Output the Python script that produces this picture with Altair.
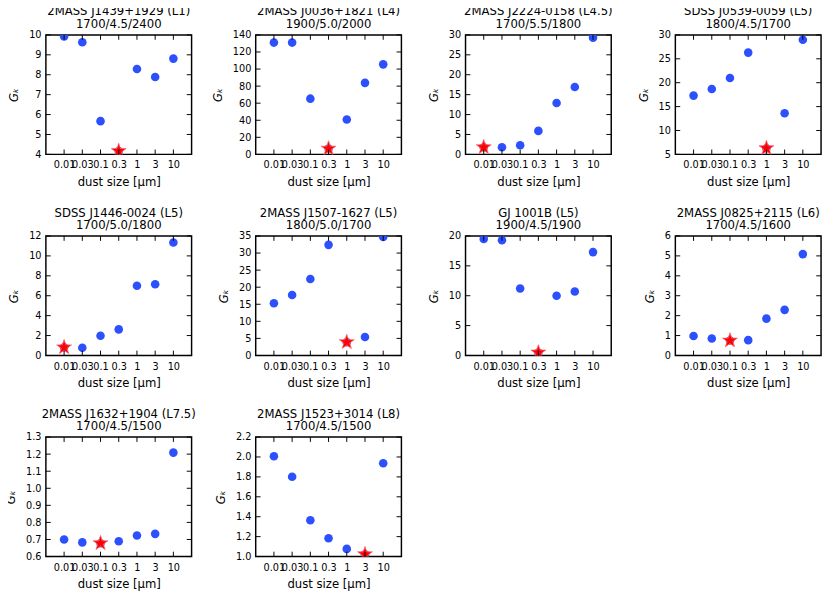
import altair as alt
import pandas as pd

SIZE_LABELS = ["0.01", "0.03", "0.1", "0.3", "1", "3", "10"]

NAMES = [
    "2MASS J1439+1929 (L1)", "2MASS J0036+1821 (L4)", "2MASS J2224-0158 (L4.5)",
    "SDSS J0539-0059 (L5)", "SDSS J1446-0024 (L5)", "2MASS J1507-1627 (L5)",
    "GJ 1001B (L5)", "2MASS J0825+2115 (L6)", "2MASS J1632+1904 (L7.5)",
    "2MASS J1523+3014 (L8)",
]
PARAMS = [
    "1700/4.5/2400", "1900/5.0/2000", "1700/5.5/1800", "1800/4.5/1700",
    "1700/5.0/1800", "1800/5.0/1700", "1900/4.5/1900", "1700/4.5/1600",
    "1700/4.5/1500", "1700/4.5/1500",
]
GK = [
    [9.92, 9.63, 5.67, 4.17, 8.29, 7.89, 8.81],
    [131.0, 131.0, 65.3, 6.8, 40.8, 83.8, 105.5],
    [1.8, 1.8, 2.3, 5.9, 12.9, 16.9, 29.3],
    [17.3, 18.7, 21.0, 26.3, 6.3, 13.6, 29.0],
    [0.82, 0.78, 1.98, 2.62, 7.0, 7.15, 11.35],
    [15.3, 17.7, 22.4, 32.4, 3.9, 5.4, 34.7],
    [19.5, 19.3, 11.2, 0.5, 10.0, 10.7, 17.3],
    [0.98, 0.85, 0.75, 0.77, 1.85, 2.29, 5.09],
    [0.700, 0.683, 0.678, 0.690, 0.723, 0.733, 1.209],
    [2.007, 1.802, 1.365, 1.183, 1.077, 1.023, 1.937],
]
BEST = [3, 3, 0, 4, 0, 4, 3, 2, 2, 5]
Y_TICKS = [
    [4, 5, 6, 7, 8, 9, 10],
    [0, 20, 40, 60, 80, 100, 120, 140],
    [0, 5, 10, 15, 20, 25, 30],
    [5, 10, 15, 20, 25, 30],
    [0, 2, 4, 6, 8, 10, 12],
    [0, 5, 10, 15, 20, 25, 30, 35],
    [0, 5, 10, 15, 20],
    [0, 1, 2, 3, 4, 5, 6],
    [0.6, 0.7, 0.8, 0.9, 1.0, 1.1, 1.2, 1.3],
    [1.0, 1.2, 1.4, 1.6, 1.8, 2.0, 2.2],
]
Y_FORMAT = ["d", "d", "d", "d", "d", "d", "d", "d", ".1f", ".1f"]

W, H = 150, 123
TICK = 5
BLUE = "#2d50ff"
FONT = "DejaVu Sans"
STAR = ("M0,-1L0.2245,-0.309L0.9511,-0.309L0.3633,0.118L0.5878,0.809L0,0.382"
        "L-0.5878,0.809L-0.3633,0.118L-0.9511,-0.309L-0.2245,-0.309Z")

label_expr = "[" + ",".join("'%s'" % s for s in SIZE_LABELS) + "][datum.value]"


def panel(i):
    df = pd.DataFrame({"idx": list(range(len(SIZE_LABELS))), "gk": GK[i]})
    star = df.iloc[[BEST[i]]].reset_index(drop=True)
    xticks = pd.DataFrame({"idx": list(range(len(SIZE_LABELS)))})
    yticks = pd.DataFrame({"gk": Y_TICKS[i]})

    x = alt.X(
        "idx:Q",
        scale=alt.Scale(domain=[-1, len(SIZE_LABELS)], nice=False, zero=False),
        axis=alt.Axis(
            values=list(range(len(SIZE_LABELS))), labelExpr=label_expr,
            title="dust size [μm]", grid=False, ticks=False, domain=False,
            labelOverlap=False, labelFlush=False, labelBound=False,
            labelPadding=6, titlePadding=7, labelFontSize=10, titleFontSize=12,
            titleFontWeight="normal", labelColor="black", titleColor="black",
        ),
    )
    y = alt.Y(
        "gk:Q",
        scale=alt.Scale(domain=[Y_TICKS[i][0], Y_TICKS[i][-1]], nice=False, zero=False),
        axis=alt.Axis(
            values=Y_TICKS[i], format=Y_FORMAT[i], title="Gₖ", grid=False,
            ticks=False, domain=False, labelOverlap=False, labelFlush=False,
            labelBound=False, labelPadding=5, titlePadding=8, labelFontSize=10,
            titleFontSize=12, titleFontStyle="italic", titleFontWeight="normal",
            labelColor="black", titleColor="black",
        ),
    )

    pts = alt.Chart(df).mark_circle(size=78, color=BLUE, opacity=1, clip=True).encode(x=x, y=y)
    st = alt.Chart(star).mark_point(
        shape=STAR, filled=True, size=260, fill="#ff0000", stroke="#ff6a6a",
        strokeWidth=0.8, opacity=1, clip=True,
    ).encode(x=x, y=y)

    xb = alt.Chart(xticks).mark_rule(color="black", strokeWidth=1).encode(
        x=x, y=alt.value(H), y2=alt.value(H - TICK))
    xtop = alt.Chart(xticks).mark_rule(color="black", strokeWidth=1).encode(
        x=x, y=alt.value(0), y2=alt.value(TICK))
    yl = alt.Chart(yticks).mark_rule(color="black", strokeWidth=1).encode(
        y=y, x=alt.value(0), x2=alt.value(TICK))
    yr = alt.Chart(yticks).mark_rule(color="black", strokeWidth=1).encode(
        y=y, x=alt.value(W - TICK), x2=alt.value(W))

    return alt.layer(pts, st, xb, xtop, yl, yr).properties(
        width=W, height=H,
        title=alt.TitleParams(
            text=[NAMES[i], PARAMS[i]], fontSize=12, fontWeight="normal",
            font=FONT, color="black", lineHeight=13, offset=-1, anchor="middle",
        ),
    )


chart = alt.concat(
    *[panel(i) for i in range(len(NAMES))], columns=4,
    spacing={"row": 84, "column": 66}, bounds="flush",
).properties(
    padding={"left": -4, "top": -12, "right": 0, "bottom": 0},
).configure(font=FONT).configure_view(stroke="black", strokeWidth=1.5)

chart.save("out.html", embed_options={"renderer": "svg", "actions": False})
